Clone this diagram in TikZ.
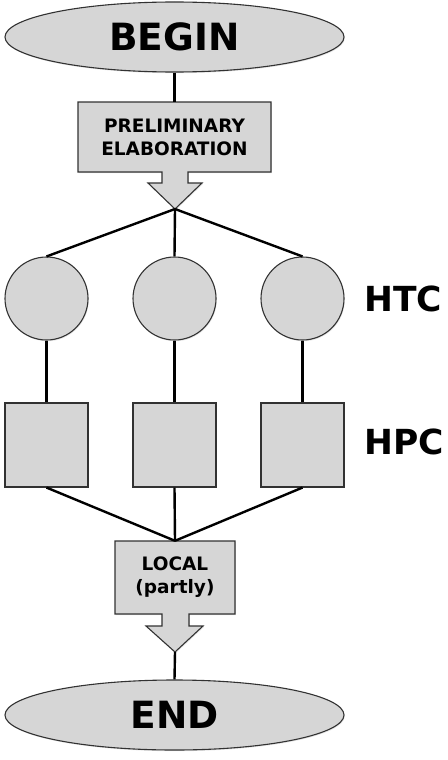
\documentclass[tikz,border=0pt]{standalone}
\usepackage{fontspec}
\setmainfont{DejaVu Sans}
\usetikzlibrary{shapes.geometric,shadows}
\definecolor{boxfill}{RGB}{214,214,214}
\definecolor{edgegray}{RGB}{50,50,50}
\begin{document}
\begin{tikzpicture}[x=1pt,y=-1pt,
  shapeline/.style={draw=edgegray, line width=1.1pt, fill=boxfill,
    drop shadow={opacity=0.2, shadow xshift=0.8pt, shadow yshift=-1.2pt}},
  conn/.style={line width=2.4pt, draw=black},
  bigtxt/.style={font=\bfseries\fontsize{37.5}{40}\selectfont},
  sidetxt/.style={font=\bfseries\fontsize{34.5}{38}\selectfont, anchor=west, inner sep=0pt},
  boxtxt/.style={font=\bfseries\fontsize{18.5}{23}\selectfont, align=center}]
\useasboundingbox (0,0) rectangle (447,760);

% BEGIN
\node[ellipse, shapeline, minimum width=339pt, minimum height=70pt, inner sep=0pt, bigtxt] (begin) at (174.5,37) {BEGIN};

% PRELIMINARY ELABORATION (box with arrow)
\path[shapeline] (78,102) -- (271,102) -- (271,172) -- (188,172) -- (188,183) -- (202,183)
  -- (175,209) -- (148,183) -- (162,183) -- (162,172) -- (78,172) -- cycle;
\node[boxtxt, minimum width=193pt, minimum height=70pt, inner sep=0pt] (prelim) at (174.5,137) {PRELIMINARY\\ELABORATION};
\coordinate (ptip) at (175,209);

% HTC circles
\node[circle, shapeline, minimum size=83pt, inner sep=0pt] (c1) at (46.5,298.5) {};
\node[circle, shapeline, minimum size=83pt, inner sep=0pt] (c2) at (174.5,298.5) {};
\node[circle, shapeline, minimum size=83pt, inner sep=0pt] (c3) at (302.5,298.5) {};
\node[sidetxt] (htc) at (364,298.5) {HTC};

% HPC squares
\node[rectangle, shapeline, minimum width=83pt, minimum height=84pt, inner sep=0pt] (s1) at (46.5,445) {};
\node[rectangle, shapeline, minimum width=83pt, minimum height=84pt, inner sep=0pt] (s2) at (174.5,445) {};
\node[rectangle, shapeline, minimum width=83pt, minimum height=84pt, inner sep=0pt] (s3) at (302.5,445) {};
\node[sidetxt] (hpc) at (364,442) {HPC};

% LOCAL (partly)
\path[shapeline] (115,541) -- (235,541) -- (235,614) -- (189,614) -- (189,626) -- (203,626)
  -- (175,652) -- (146,626) -- (162,626) -- (162,614) -- (115,614) -- cycle;
\node[boxtxt, minimum width=120pt, minimum height=73pt, inner sep=0pt] (local) at (175,577.5) {LOCAL\\(partly)};
\coordinate (ltip) at (175,652);

% END
\node[ellipse, shapeline, minimum width=339pt, minimum height=70pt, inner sep=0pt, bigtxt] (end) at (174.5,715) {END};

% connectors
\draw[conn] (begin.south) -- (prelim.north);
\draw[conn] (ptip) -- (c1.north);
\draw[conn] (ptip) -- (c2.north);
\draw[conn] (ptip) -- (c3.north);
\draw[conn] (c1.south) -- (s1.north);
\draw[conn] (c2.south) -- (s2.north);
\draw[conn] (c3.south) -- (s3.north);
\draw[conn] (s1.south) -- (local.north);
\draw[conn] (s2.south) -- (local.north);
\draw[conn] (s3.south) -- (local.north);
\draw[conn] (ltip) -- (end.north);
\end{tikzpicture}
\end{document}
